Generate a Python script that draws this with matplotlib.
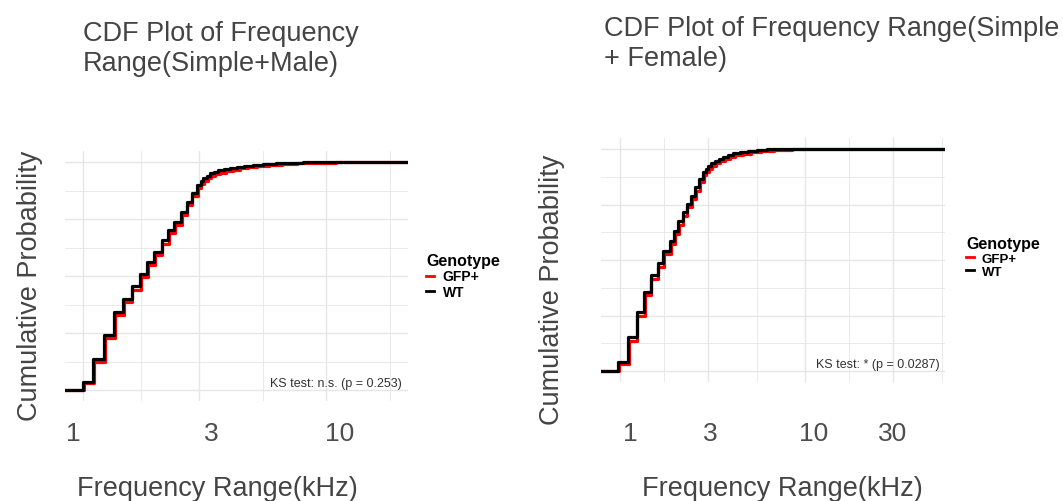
#CDF plots of frequency range, Simple calls, Male vs Female

import matplotlib
matplotlib.use("Agg")
import matplotlib.pyplot as plt
import matplotlib.transforms as mtrans
import numpy as np

plt.rcParams['font.family'] = ['Liberation Sans', 'DejaVu Sans']

#Step positions (kHz) and cumulative probability after each step
#Male panel
x_male_wt = [1.00, 1.10, 1.22, 1.345, 1.465, 1.586, 1.716, 1.838, 1.966, 2.108, 2.245, 2.377,
             2.53, 2.67, 2.80, 2.95, 3.05, 3.12, 3.22, 3.33, 3.45, 3.60, 3.80, 4.02,
             4.30, 4.60, 5.00, 5.50, 6.20, 7.00, 8.00, 9.40]
p_male_wt = [0.036, 0.136, 0.241, 0.341, 0.399, 0.454, 0.509, 0.561, 0.605, 0.656, 0.700, 0.737,
             0.781, 0.825, 0.862, 0.898, 0.915, 0.928, 0.940, 0.950, 0.957, 0.963, 0.969, 0.975,
             0.980, 0.984, 0.988, 0.991, 0.994, 0.996, 0.998, 1.0]
x_male_gfp = [1.005, 1.106, 1.228, 1.353, 1.474, 1.596, 1.727, 1.85, 1.978, 2.12, 2.26, 2.39,
              2.545, 2.685, 2.815, 2.965, 3.07, 3.14, 3.25, 3.36, 3.50, 3.66, 3.88, 4.12,
              4.42, 4.75, 5.20, 5.80, 6.60, 7.60, 9.00, 11.0]
p_male_gfp = [0.031, 0.124, 0.228, 0.327, 0.386, 0.440, 0.495, 0.547, 0.592, 0.642, 0.687, 0.725,
              0.768, 0.812, 0.849, 0.885, 0.902, 0.915, 0.928, 0.938, 0.946, 0.953, 0.960, 0.967,
              0.973, 0.978, 0.983, 0.987, 0.991, 0.994, 0.997, 1.0]

#Female panel
x_fem_wt = [0.98, 1.109, 1.23, 1.354, 1.47, 1.598, 1.71, 1.864, 1.965, 2.066, 2.18, 2.295,
            2.42, 2.544, 2.68, 2.82, 2.90, 3.00, 3.12, 3.26, 3.42, 3.62, 3.85, 4.10,
            4.45, 4.90, 5.50, 6.20, 7.20]
p_fem_wt = [0.039, 0.152, 0.264, 0.357, 0.432, 0.486, 0.542, 0.587, 0.632, 0.674, 0.715, 0.752,
            0.790, 0.827, 0.865, 0.895, 0.910, 0.925, 0.937, 0.947, 0.957, 0.965, 0.973, 0.980,
            0.986, 0.991, 0.995, 0.998, 1.0]
x_fem_gfp = [0.99, 1.117, 1.238, 1.362, 1.478, 1.607, 1.72, 1.875, 1.977, 2.078, 2.193, 2.31,
             2.435, 2.56, 2.697, 2.838, 2.92, 3.02, 3.15, 3.30, 3.47, 3.68, 3.93, 4.20,
             4.60, 5.10, 5.80, 6.80, 8.50]
p_fem_gfp = [0.031, 0.136, 0.248, 0.341, 0.416, 0.470, 0.526, 0.571, 0.616, 0.658, 0.699, 0.737,
             0.775, 0.812, 0.850, 0.881, 0.896, 0.911, 0.924, 0.935, 0.945, 0.954, 0.963, 0.971,
             0.979, 0.985, 0.991, 0.996, 1.0]

xlim_male = (0.843, 21.7)
xlim_fem = (0.789, 57.1)
ks_male = "KS test: n.s. (p = 0.253)"
ks_fem = "KS test: * (p = 0.0287)"

txt = '#444444'
grid = '#e6e6e6'

fig = plt.figure(figsize=(10.63, 5.02), dpi=100)
ax1 = fig.add_axes([65/1063, 1-402.4/502, 343/1063, 250.8/502])
ax2 = fig.add_axes([601/1063, 1-383.1/502, 344/1063, 244.2/502])


def ecdf_panel(ax, xlim, xg, pg, xw, pw, majors, ks, pad, shifts):
    #pad the steps out to the panel edges like stat_ecdf does
    ax.step([xlim[0]] + xg + [xlim[1]], [0] + pg + [1], where='post', color='red', lw=2.3, label='GFP+')
    ax.step([xlim[0]] + xw + [xlim[1]], [0] + pw + [1], where='post', color='black', lw=2.3, label='WT')
    ax.set_xscale('log')
    ax.set_xlim(xlim)
    ax.set_ylim(-0.05, 1.05)
    ax.set_xticks(majors)
    ax.set_xticklabels([str(m) for m in majors])
    lm = np.log10(majors + [majors[-1]*10/3])
    ax.set_xticks(10**((lm[:-1] + lm[1:])/2), minor=True)
    ax.set_yticks([0, 0.25, 0.5, 0.75, 1.0])
    ax.set_yticks([0.125, 0.375, 0.625, 0.875], minor=True)
    ax.set_yticklabels([])
    ax.grid(True, which='major', color=grid, lw=1.0)
    ax.grid(True, which='minor', color=grid, lw=0.6)
    ax.set_axisbelow(True)
    for s in ax.spines.values():
        s.set_visible(False)
    ax.tick_params(which='both', length=0, labelsize=19, labelcolor='#4d4d4d')
    ax.tick_params(axis='x', pad=pad)
    #the tick labels in the original sit a little off their gridlines
    for lab, dx in zip(ax.get_xticklabels(), shifts):
        lab.set_transform(lab.get_transform() + mtrans.ScaledTranslation(dx/100, 0, fig.dpi_scale_trans))
    ax.text(0.983, 0.075, ks, transform=ax.transAxes, ha='right', va='center', fontsize=9, color='#333333')


ecdf_panel(ax1, xlim_male, x_male_gfp, p_male_gfp, x_male_wt, p_male_wt, [1, 3, 10], ks_male, 14, [-10, 12, 13])
ecdf_panel(ax2, xlim_fem, x_fem_gfp, p_fem_gfp, x_fem_wt, p_fem_wt, [1, 3, 10, 30], ks_fem, 28, [10, 2, 9, -1])

for ax, xy, yy in [(ax1, (0.4446, -0.345), (-0.102, 0.464)), (ax2, (0.5276, -0.434), (-0.1424, 0.381))]:
    ax.set_xlabel('Frequency Range(kHz)', fontsize=19.5, color=txt, va='center')
    ax.xaxis.set_label_coords(*xy)
    ax.set_ylabel('Cumulative Probability', fontsize=19.5, color=txt, va='center')
    ax.yaxis.set_label_coords(*yy)

fig.text(83/1063, 1-49/502, 'CDF Plot of Frequency\nRange(Simple+Male)', fontsize=19.5, color=txt,
         ha='left', va='center', linespacing=1.2)
fig.text(604/1063, 1-44/502, 'CDF Plot of Frequency Range(Simple\n+ Female)', fontsize=19.5, color=txt,
         ha='left', va='center', linespacing=1.2)

for ax, anchor, fs in [(ax1, (426/1063, 1-254/502), 10), (ax2, (966/1063, 1-237/502), 9.5)]:
    leg = ax.legend(loc='upper left', bbox_to_anchor=anchor, bbox_transform=fig.transFigure, frameon=False,
                    borderpad=0, borderaxespad=0, handlelength=0.6, handletextpad=0.6, labelspacing=0.1,
                    title='Genotype', alignment='left', prop={'weight': 'bold', 'size': fs},
                    title_fontproperties={'weight': 'bold', 'size': 11.5})
    for h in leg.get_lines():
        h.set_linewidth(2.0)

fig.savefig('out.png', dpi=100)
